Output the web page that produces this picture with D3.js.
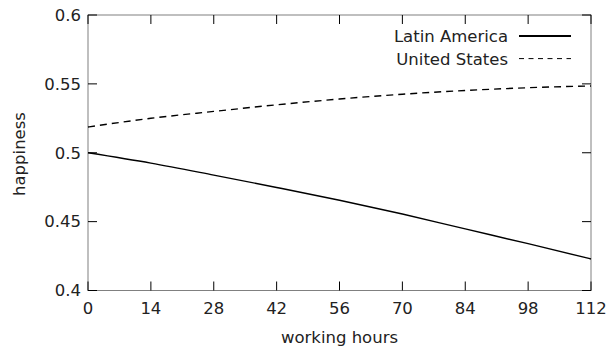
<!DOCTYPE html>
<meta charset="utf-8">
<style>
body { margin: 0; background: #fff; }
.chart text { font-family: "DejaVu Sans", sans-serif; font-size: 16.5px; fill: #222; }
</style>
<svg class="chart" width="616" height="351"></svg>
<script src="https://cdn.jsdelivr.net/npm/d3@7"></script>
<script>

// data
let hours = [0, 14, 28, 42, 56, 70, 84, 98, 112];
let latinAmerica = [0.500, 0.4925, 0.4838, 0.4748, 0.4655, 0.4555, 0.4447, 0.4340, 0.4229];
let unitedStates = [0.5187, 0.5250, 0.5300, 0.5348, 0.5390, 0.5425, 0.5452, 0.5472, 0.5485];
let xTicks = [0, 14, 28, 42, 56, 70, 84, 98, 112];
let yTicks = [0.4, 0.45, 0.5, 0.55, 0.6];
let seriesNames = ["Latin America", "United States"];

let plotLeft = 88, plotRight = 591, plotTop = 15, plotBottom = 290.5;

let x = d3.scaleLinear().domain([0, 112]).range([plotLeft, plotRight]);
let y = d3.scaleLinear().domain([0.4, 0.6]).range([plotBottom, plotTop]);

let svg = d3.select(".chart");

// frame
svg.append("rect")
    .attr("x", plotLeft).attr("y", plotTop)
    .attr("width", plotRight - plotLeft).attr("height", plotBottom - plotTop)
    .attr("fill", "none").attr("stroke", "#808080").attr("stroke-width", 1);

let tickLen = 9;

// x ticks, bottom and top, pointing inward
let xt = svg.append("g").selectAll("g").data(xTicks).enter().append("g");
xt.append("line")
    .attr("x1", d => x(d)).attr("x2", d => x(d))
    .attr("y1", plotBottom).attr("y2", plotBottom - tickLen)
    .attr("stroke", "#000");
xt.append("line")
    .attr("x1", d => x(d)).attr("x2", d => x(d))
    .attr("y1", plotTop).attr("y2", plotTop + tickLen)
    .attr("stroke", "#000");
xt.append("text")
    .attr("x", d => x(d))
    .attr("y", 314)
    .attr("text-anchor", "middle")
    .text(d => d);

// y ticks, left and right
let yt = svg.append("g").selectAll("g").data(yTicks).enter().append("g");
yt.append("line")
    .attr("x1", plotLeft).attr("x2", plotLeft + tickLen)
    .attr("y1", d => y(d)).attr("y2", d => y(d))
    .attr("stroke", "#000");
yt.append("line")
    .attr("x1", plotRight).attr("x2", plotRight - tickLen)
    .attr("y1", d => y(d)).attr("y2", d => y(d))
    .attr("stroke", "#000");
yt.append("text")
    .attr("x", 81)
    .attr("y", d => y(d))
    .attr("dy", "0.35em")
    .attr("text-anchor", "end")
    .text(d => d);

// axis titles
svg.append("text")
    .attr("x", (plotLeft + plotRight) / 2)
    .attr("y", 343)
    .attr("text-anchor", "middle")
    .text("working hours");

svg.append("text")
    .attr("transform", "translate(25,154) rotate(-90)")
    .attr("text-anchor", "middle")
    .text("happiness");

// lines
let line = d3.line()
    .x((d, i) => x(hours[i]))
    .y(d => y(d))
    .curve(d3.curveMonotoneX);

let dashes = [null, "7,5"];

[latinAmerica, unitedStates].forEach((s, k) => {
  svg.append("path")
      .attr("d", line(s))
      .attr("fill", "none")
      .attr("stroke", "#000")
      .attr("stroke-width", 1.4)
      .attr("stroke-dasharray", dashes[k]);
});

// legend
let leg = svg.append("g").selectAll("g").data(seriesNames).enter().append("g")
    .attr("transform", (d, i) => "translate(0," + (42 + i * 22.6) + ")");
leg.append("text")
    .attr("x", 508)
    .attr("text-anchor", "end")
    .text(d => d);
leg.append("line")
    .attr("x1", 519).attr("x2", 571)
    .attr("y1", -6).attr("y2", -6)
    .attr("stroke", "#000")
    .attr("stroke-width", (d, i) => i == 0 ? 2 : 1)
    .attr("stroke-dasharray", (d, i) => dashes[i] ? "5,4.5" : null);

</script>
